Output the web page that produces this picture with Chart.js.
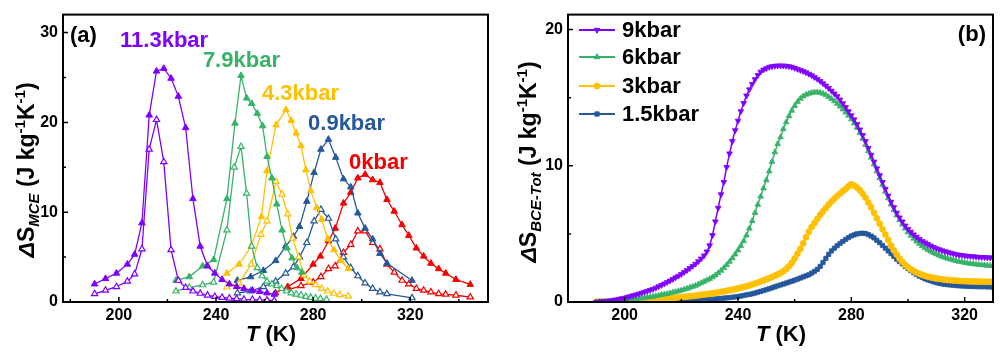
<!DOCTYPE html>
<html>
<head>
<meta charset="utf-8">
<script src="https://cdn.jsdelivr.net/npm/chart.js@4.4.1/dist/chart.umd.min.js"></script>
<style>
html, body { margin: 0; padding: 0; background: #fff; }
#wrap { position: relative; width: 1000px; height: 364px; }
canvas { position: absolute; top: 0; }
#ca { left: 0; }
#cb { left: 500px; }
</style>
</head>
<body>
<div id="wrap">
  <canvas id="ca" width="500" height="364"></canvas>
  <canvas id="cb" width="500" height="364"></canvas>
</div>
<script>
const FONT = '"Liberation Sans", Arial, Helvetica, sans-serif';

// ---------- panel (a): dS_MCE, filled = heating, open = cooling ----------
const t113F = [190,194.5,199,203.5,206.5,209.5,212.5,215.5,218.5,221.5,224.5,227.5,230.5,233.5,236.5,239.5,242.5,245.5,248.5,251.5,255,258,261,264];
const s113F = [2.0,2.6,3.2,4.2,5.3,8.8,20.8,25.7,26.0,24.9,22.9,19.4,11.5,6.2,4.0,3.2,2.5,2.0,1.7,1.5,1.3,1.15,1.0,0.85];
const t113O = [190,194.5,199,203.5,206.5,209.5,212.5,215.5,218.5,221.5,224.5,227.5,230.5,233.5,236.5,239.5,242.5,245.5,248.5,251.5,255,258,261,264];
const s113O = [0.9,1.3,1.7,2.3,3.1,5.9,17.0,20.3,15.6,5.8,2.4,1.6,1.2,0.95,0.75,0.6,0.5,0.42,0.36,0.3,0.26,0.22,0.2,0.15];

const t79F = [223.5,229,234.5,239,244.5,247.8,250.3,252.6,254.7,257,259.2,261,263,265,267.2,269.2,271.3,273.4,275.4];
const s79F = [2.4,2.8,4.0,4.7,11.5,19.9,25.2,22.7,22.1,21.0,19.6,16.2,13.8,10.9,8.0,6.0,4.9,3.8,3.3];
const t79O = [223.5,229,234.5,239,244.5,247.5,250.3,252.6,254.7,257,259,261,263,265,267,269,271,273,275,277,279,281,283,285.5];
const s79O = [1.2,1.6,1.9,2.2,8.0,15.0,17.3,12.1,6.2,3.8,2.9,2.3,2.0,1.8,1.5,1.2,1.0,0.85,0.75,0.6,0.5,0.42,0.35,0.28];

const t43F = [244.5,249.5,254.5,258.7,261,264.7,268.8,271,273,275,277,279,281.5,283.5,286,288.5,291.5,294.5];
const s43F = [3.2,4.2,6.2,9.5,14.6,19.7,21.4,20.2,18.8,17.4,14.7,12.4,10.5,9.2,7.0,5.8,4.6,3.7];
const t43O = [244.5,249.5,254.5,258.5,261,264.7,267.2,269.5,271.6,274,276.3,278.5,281,283.5,286,288.5,291,294.5];
const s43O = [1.65,2.1,4.2,7.5,9.0,13.4,12.0,9.8,7.1,5.0,3.0,2.3,1.9,1.5,1.2,0.95,0.8,0.65];

const t09F = [248.8,254.3,259.5,264.6,268.7,271.9,274.4,277.4,280.4,283.2,286.3,289.3,292.5,295.5,298.4,301.4,304.5,307.5,310.4,320.7];
const s09F = [2.4,2.8,3.5,4.6,6.2,7.3,8.4,11.2,14.4,17.0,18.1,16.1,13.7,12.8,9.9,8.2,7.0,5.4,4.3,2.4];
const t09O = [248.8,254.3,259.5,264.6,268.7,271.9,274.4,277.4,280.4,283.2,286.3,289.3,292.5,295.5,298.4,301.4,304.5,307.5,310.4,320.7];
const s09O = [1.0,1.2,1.7,2.3,3.2,3.9,5.0,6.6,9.0,10.3,9.3,7.0,5.0,3.8,2.9,2.1,1.5,1.1,0.9,0.45];

const t0F = [264.5,269.5,275,280,283,286.3,289.1,292.5,295.5,298.4,301.4,304.5,307.5,310.4,313.4,316.6,319.4,322.5,325.5,328.5,331.7,334.6,338.8,344.7];
const s0F = [1.0,1.7,2.6,4.2,5.1,6.8,8.2,11.0,12.2,13.8,14.2,13.6,13.3,11.4,10.1,8.6,7.4,6.0,5.1,4.3,3.7,3.2,2.5,1.95];
const t0O = [269.5,275,280,283.2,286.3,289.1,292.5,295.5,298.4,301.4,304.5,307.5,310.4,313.4,316.6,319.4,322.5,325.5,328.5,331.7,334.6,338.8,344.7];
const s0O = [1.35,1.8,2.2,2.8,3.7,4.0,5.5,6.4,7.9,7.9,6.6,5.9,4.2,3.3,2.4,2.0,1.5,1.3,1.1,0.9,0.85,0.75,0.55];

const pressuresA = ['11.3kbar', '7.9kbar', '4.3kbar', '0.9kbar', '0kbar'];
const xTicksA = [200, 240, 280, 320];
const yTicksA = [0, 10, 20, 30];

// ---------- panel (b): dS_BCE-Tot ----------
const tB = [
  190,191,192,193,194,195,196,197,198,199,
  200,201,202,203,204,205,206,207,208,209,
  210,211,212,213,214,215,216,217,218,219,
  220,221,222,223,224,225,226,227,228,229,
  230,231,232,233,234,235,236,237,238,239,
  240,241,242,243,244,245,246,247,248,249,
  250,251,252,253,254,255,256,257,258,259,
  260,261,262,263,264,265,266,267,268,269,
  270,271,272,273,274,275,276,277,278,279,
  280,281,282,283,284,285,286,287,288,289,
  290,291,292,293,294,295,296,297,298,299,
  300,301,302,303,304,305,306,307,308,309,
  310,311,312,313,314,315,316,317,318,319,
  320,321,322,323,324,325,326,327,328,329,
  330
];
const s9 = [
  0.00,0.02,0.04,0.06,0.08,0.10,0.14,0.18,0.22,0.26,
  0.30,0.36,0.42,0.48,0.54,0.60,0.67,0.74,0.81,0.88,
  0.95,1.04,1.14,1.24,1.34,1.45,1.56,1.68,1.80,1.92,
  2.05,2.19,2.33,2.48,2.64,2.80,2.98,3.18,3.40,3.70,
  4.15,4.90,5.90,6.90,7.90,8.80,9.90,10.9,11.8,12.6,
  13.3,14.0,14.6,15.15,15.6,16.0,16.35,16.65,16.9,17.05,
  17.15,17.25,17.3,17.33,17.35,17.35,17.35,17.33,17.3,17.25,
  17.18,17.1,17.02,16.94,16.85,16.75,16.63,16.5,16.37,16.22,
  16.05,15.88,15.7,15.5,15.3,15.1,14.85,14.58,14.3,14.0,
  13.7,13.4,13.05,12.65,12.25,11.8,11.3,10.8,10.3,9.8,
  9.3,8.8,8.3,7.8,7.35,6.95,6.55,6.2,5.9,5.6,
  5.35,5.15,4.95,4.78,4.62,4.48,4.36,4.24,4.13,4.03,
  3.94,3.86,3.78,3.72,3.66,3.60,3.55,3.50,3.46,3.43,
  3.40,3.38,3.36,3.34,3.32,3.30,3.29,3.28,3.27,3.26,
  3.25
];
const s6 = [
  0.00,0.01,0.02,0.03,0.04,0.05,0.06,0.08,0.09,0.11,
  0.12,0.14,0.17,0.19,0.22,0.25,0.28,0.31,0.34,0.37,
  0.40,0.44,0.48,0.52,0.56,0.60,0.65,0.70,0.75,0.80,
  0.85,0.92,0.99,1.06,1.13,1.20,1.30,1.40,1.50,1.60,
  1.70,1.82,1.96,2.12,2.30,2.50,2.72,2.96,3.22,3.50,
  3.80,4.12,4.48,4.90,5.40,5.95,6.55,7.15,7.75,8.35,
  8.95,9.60,10.3,11.0,11.6,12.1,12.7,13.2,13.65,14.05,
  14.4,14.7,14.93,15.1,15.22,15.3,15.36,15.4,15.4,15.37,
  15.3,15.2,15.07,14.92,14.75,14.56,14.36,14.15,13.92,13.68,
  13.42,13.12,12.8,12.42,12.0,11.55,11.08,10.6,10.1,9.6,
  9.1,8.6,8.1,7.62,7.17,6.75,6.37,6.02,5.7,5.4,
  5.12,4.88,4.66,4.46,4.28,4.12,3.97,3.84,3.72,3.61,
  3.51,3.42,3.34,3.26,3.19,3.13,3.07,3.02,2.97,2.93,
  2.89,2.85,2.82,2.79,2.76,2.74,2.72,2.70,2.68,2.66,
  2.65
];
const s3 = [
  0.00,0.01,0.01,0.02,0.02,0.03,0.04,0.04,0.05,0.06,
  0.07,0.08,0.09,0.10,0.11,0.12,0.13,0.14,0.15,0.17,
  0.18,0.20,0.21,0.23,0.24,0.26,0.28,0.30,0.32,0.34,
  0.36,0.38,0.40,0.42,0.44,0.46,0.49,0.52,0.55,0.58,
  0.61,0.64,0.67,0.70,0.74,0.78,0.82,0.86,0.90,0.95,
  1.00,1.05,1.10,1.16,1.22,1.28,1.35,1.42,1.50,1.58,
  1.66,1.75,1.84,1.93,2.02,2.12,2.25,2.42,2.62,2.88,
  3.20,3.55,3.90,4.30,4.75,5.15,5.50,5.80,6.10,6.40,
  6.65,6.90,7.15,7.38,7.58,7.78,7.96,8.13,8.30,8.50,
  8.65,8.55,8.40,8.20,7.95,7.65,7.30,6.95,6.55,6.15,
  5.75,5.35,4.95,4.55,4.15,3.80,3.48,3.20,2.95,2.73,
  2.55,2.40,2.27,2.16,2.07,1.99,1.92,1.86,1.81,1.77,
  1.73,1.70,1.67,1.64,1.62,1.60,1.58,1.57,1.55,1.54,
  1.53,1.52,1.51,1.51,1.50,1.50,1.49,1.49,1.49,1.48,
  1.48
];
const s15 = [
  0.00,0.00,0.00,0.00,0.00,0.00,0.00,0.00,0.00,0.00,
  0.00,0.01,0.01,0.01,0.01,0.01,0.01,0.02,0.02,0.02,
  0.02,0.03,0.03,0.03,0.04,0.04,0.04,0.05,0.05,0.06,
  0.06,0.07,0.08,0.09,0.10,0.11,0.12,0.13,0.15,0.16,
  0.18,0.20,0.22,0.24,0.26,0.28,0.30,0.32,0.35,0.37,
  0.40,0.44,0.48,0.52,0.56,0.60,0.66,0.72,0.78,0.84,
  0.90,0.97,1.04,1.11,1.18,1.25,1.32,1.39,1.46,1.53,
  1.60,1.68,1.76,1.84,1.92,2.00,2.12,2.25,2.40,2.62,
  2.90,3.20,3.50,3.75,3.95,4.13,4.30,4.45,4.60,4.73,
  4.85,4.93,5.00,5.03,5.05,5.03,4.95,4.84,4.70,4.53,
  4.35,4.15,3.95,3.75,3.55,3.35,3.15,2.97,2.80,2.62,
  2.45,2.30,2.15,2.02,1.90,1.80,1.70,1.62,1.55,1.48,
  1.42,1.37,1.33,1.30,1.27,1.25,1.23,1.21,1.19,1.18,
  1.17,1.16,1.15,1.14,1.13,1.13,1.12,1.12,1.11,1.11,
  1.10
];
const pressuresB = ['9kbar', '6kbar', '3kbar', '1.5kbar'];
const xTicksB = [200, 240, 280, 320];
const yTicksB = [0, 10, 20];

// ---------- style ----------
const PURPLE = '#8000ff';
const GREEN = '#36b368';
const YELLOW = '#ffc000';
const BLUE = '#25589c';
const RED = '#f40000';

function pts(xs, ys) {
  return xs.map((x, i) => ({ x: x, y: ys[i] }));
}

function drawRich(ctx, parts, cx, cy, size) {
  let w = 0;
  const segs = parts.map(p => {
    const s = (p.sub || p.sup) ? Math.round(size * 0.66) : size;
    const f = (p.it ? 'italic ' : '') + 'bold ' + s + 'px ' + FONT;
    ctx.font = f;
    const m = ctx.measureText(p.t).width;
    w += m;
    return { p, f, m };
  });
  let x = cx - w / 2;
  const base = cy + size * 0.36;
  ctx.textAlign = 'left';
  ctx.textBaseline = 'alphabetic';
  segs.forEach(s => {
    ctx.font = s.f;
    let dy = 0;
    if (s.p.sub) dy = size * 0.22;
    if (s.p.sup) dy = -size * 0.42;
    ctx.fillText(s.p.t, x, base + dy);
    x += s.m;
  });
}

// frame, inward ticks, titles and text notes
function decoPlugin(opt) {
  return {
    id: 'deco',
    afterDraw(chart) {
      const { ctx, chartArea: a } = chart;
      const x = chart.scales.x, y = chart.scales.y;
      ctx.save();
      ctx.strokeStyle = '#000';
      ctx.lineWidth = 1.5;
      ctx.beginPath();
      opt.xMajor.forEach(v => { const p = x.getPixelForValue(v); ctx.moveTo(p, a.bottom); ctx.lineTo(p, a.bottom - 5); });
      opt.xMinor.forEach(v => { const p = x.getPixelForValue(v); ctx.moveTo(p, a.bottom); ctx.lineTo(p, a.bottom - 3); });
      opt.yMajor.forEach(v => { const p = y.getPixelForValue(v); ctx.moveTo(a.left, p); ctx.lineTo(a.left + 5, p); });
      opt.yMinor.forEach(v => { const p = y.getPixelForValue(v); ctx.moveTo(a.left, p); ctx.lineTo(a.left + 3, p); });
      ctx.stroke();
      ctx.lineWidth = 2;
      ctx.strokeRect(a.left, a.top, a.right - a.left, a.bottom - a.top);

      ctx.textAlign = 'left';
      ctx.textBaseline = 'alphabetic';
      opt.notes.forEach(n => {
        ctx.font = 'bold ' + n.size + 'px ' + FONT;
        ctx.fillStyle = n.color;
        ctx.fillText(n.text, x.getPixelForValue(n.at[0]), y.getPixelForValue(n.at[1]));
      });

      if (opt.legend) {
        const L = opt.legend;
        chart.data.datasets.forEach((ds, i) => {
          const yy = L.y[i];
          ctx.strokeStyle = ds.borderColor;
          ctx.lineWidth = 2;
          ctx.beginPath();
          ctx.moveTo(L.x0, yy); ctx.lineTo(L.x1, yy);
          ctx.stroke();
          ctx.fillStyle = ds.pointBackgroundColor;
          ctx.strokeStyle = ds.borderColor;
          ctx.lineWidth = 1;
          Chart.helpers.drawPoint(ctx, { pointStyle: ds.pointStyle, radius: ds.pointRadius, rotation: ds.pointRotation || 0, borderWidth: 1 }, (L.x0 + L.x1) / 2, yy);
          ctx.fillStyle = '#000';
          ctx.font = 'bold 22px ' + FONT;
          ctx.textBaseline = 'middle';
          ctx.fillText(ds.label, L.tx, yy + 1);
        });
      }

      ctx.fillStyle = '#000';
      drawRich(ctx, opt.xTitle, opt.xTitlePos[0], opt.xTitlePos[1], 22);
      ctx.translate(opt.yTitlePos[0], opt.yTitlePos[1]);
      ctx.rotate(-Math.PI / 2);
      drawRich(ctx, opt.yTitle, 0, 0, 23);
      ctx.restore();
    }
  };
}

function axes(xMin, xMax, yMax, xTicks, yTicks, yWidth) {
  return {
    x: {
      type: 'linear', min: xMin, max: xMax,
      grid: { display: false, drawTicks: false }, border: { display: false },
      ticks: { padding: 4, color: '#000', font: { family: FONT, size: 16, weight: 'bold' } },
      afterBuildTicks: s => { s.ticks = xTicks.map(v => ({ value: v })); },
      afterFit: s => { s.height = 62; }
    },
    y: {
      type: 'linear', min: 0, max: yMax,
      grid: { display: false, drawTicks: false }, border: { display: false },
      ticks: { padding: 5, color: '#000', font: { family: FONT, size: 16, weight: 'bold' } },
      afterBuildTicks: s => { s.ticks = yTicks.map(v => ({ value: v })); },
      afterFit: s => { s.width = yWidth; }
    }
  };
}

function seriesA(label, xs, ys, color, open) {
  return {
    label: label,
    data: pts(xs, ys),
    borderColor: color,
    backgroundColor: open ? '#fff' : color,
    pointBackgroundColor: open ? '#fff' : color,
    pointBorderColor: color,
    pointStyle: 'triangle',
    pointRadius: open ? 3.6 : 3.8,
    pointBorderWidth: open ? 1.2 : 1,
    borderWidth: 1.3,
    tension: 0,
    fill: false
  };
}

const rich = (t, o) => Object.assign({ t: t }, o || {});

new Chart(document.getElementById('ca'), {
  type: 'line',
  data: {
    datasets: [
      seriesA(pressuresA[0], t113F, s113F, PURPLE, false),
      seriesA(pressuresA[0], t113O, s113O, PURPLE, true),
      seriesA(pressuresA[1], t79F, s79F, GREEN, false),
      seriesA(pressuresA[1], t79O, s79O, GREEN, true),
      seriesA(pressuresA[2], t43F, s43F, YELLOW, false),
      seriesA(pressuresA[2], t43O, s43O, YELLOW, true),
      seriesA(pressuresA[3], t09F, s09F, BLUE, false),
      seriesA(pressuresA[3], t09O, s09O, BLUE, true),
      seriesA(pressuresA[4], t0F, s0F, RED, false),
      seriesA(pressuresA[4], t0O, s0O, RED, true)
    ]
  },
  options: {
    responsive: false,
    animation: false,
    devicePixelRatio: 1,
    layout: { padding: { left: 0, right: 12, top: 10, bottom: 0 } },
    plugins: { legend: { display: false }, tooltip: { enabled: false } },
    scales: axes(177, 352, 32, xTicksA, yTicksA, 63)
  },
  plugins: [decoPlugin({
    xMajor: xTicksA, xMinor: [180, 220, 260, 300, 340],
    yMajor: yTicksA, yMinor: [5, 15, 25],
    notes: [
      { text: '(a)', at: [179.9, 28.9], color: '#000', size: 22 },
      { text: pressuresA[0], at: [200.5, 28.4], color: PURPLE, size: 22 },
      { text: pressuresA[1], at: [234.6, 26.2], color: GREEN, size: 22 },
      { text: pressuresA[2], at: [258.9, 22.5], color: YELLOW, size: 22 },
      { text: pressuresA[3], at: [277.9, 19.1], color: BLUE, size: 22 },
      { text: pressuresA[4], at: [294.8, 14.8], color: RED, size: 22 }
    ],
    xTitle: [rich('T', { it: true }), rich(' (K)')],
    xTitlePos: [271, 333],
    yTitle: [rich('\u0394', { it: true }), rich('S'), rich('MCE', { it: true, sub: true }), rich(' (J kg'), rich('-1', { sup: true }), rich('K'), rich('-1', { sup: true }), rich(')')],
    yTitlePos: [26, 170]
  })]
});

function seriesB(label, ys, color, style, rot, r) {
  return {
    label: label,
    data: pts(tB, ys),
    borderColor: color,
    backgroundColor: color,
    pointBackgroundColor: color,
    pointBorderColor: color,
    pointStyle: style,
    pointRotation: rot,
    pointRadius: r,
    pointBorderWidth: 0.8,
    borderWidth: 1.5,
    tension: 0,
    fill: false
  };
}

new Chart(document.getElementById('cb'), {
  type: 'line',
  data: {
    datasets: [
      seriesB(pressuresB[0], s9, PURPLE, 'triangle', 180, 3.3),
      seriesB(pressuresB[1], s6, GREEN, 'triangle', 0, 3.3),
      seriesB(pressuresB[2], s3, YELLOW, 'circle', 0, 3),
      seriesB(pressuresB[3], s15, BLUE, 'rect', 0, 3)
    ]
  },
  options: {
    responsive: false,
    animation: false,
    devicePixelRatio: 1,
    layout: { padding: { left: 0, right: 7, top: 10, bottom: 0 } },
    plugins: { legend: { display: false }, tooltip: { enabled: false } },
    scales: axes(180, 330, 21.1, xTicksB, yTicksB, 68)
  },
  plugins: [decoPlugin({
    xMajor: xTicksB, xMinor: [220, 260, 300],
    yMajor: yTicksB, yMinor: [5, 15],
    notes: [
      { text: '(b)', at: [317.6, 19.15], color: '#000', size: 22 }
    ],
    legend: { x0: 79, x1: 115, tx: 122, y: [30, 57, 86, 114] },
    xTitle: [rich('T', { it: true }), rich(' (K)')],
    xTitlePos: [281, 333],
    yTitle: [rich('\u0394', { it: true }), rich('S'), rich('BCE-Tot', { it: true, sub: true }), rich(' (J kg'), rich('-1', { sup: true }), rich('K'), rich('-1', { sup: true }), rich(')')],
    yTitlePos: [28, 162]
  })]
});
</script>
</body>
</html>
